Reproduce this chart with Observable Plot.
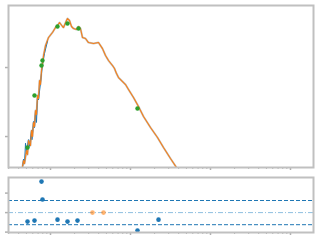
<!DOCTYPE html>
<html><head><meta charset="utf-8">
<script src="https://cdn.jsdelivr.net/npm/d3@7"></script>
<script src="https://cdn.jsdelivr.net/npm/@observablehq/plot@0.6"></script>
<style>body{margin:0;background:#fff;width:320px;height:240px;overflow:hidden} #c svg{display:block}</style>
</head><body><div id="c"></div>
<script>
// model SED
const modelWave = [0.434,0.460,0.473,0.501,0.516,0.531,0.562,0.579,0.596,0.613,0.631,0.649,0.668,0.688,0.708,0.729,0.750,0.772,0.794,0.818,0.866,0.944,1.059,1.155,1.223,1.296,1.413,1.454,1.585,1.631,1.728,1.830,1.939,2.113,2.239,2.371,2.512,2.738,2.985,3.447,3.981,4.467,4.870,5.309,5.957,6.310,6.683,7.079,7.943,8.660,9.441,10.90,12.59,14.54,17.78,21.75,25.84,31.62,37.58,44.67];
const modelFlux = [0.301,0.449,0.406,0.627,0.548,0.875,0.741,1.222,1.0,1.596,1.396,2.38,2.08,3.93,3.56,6.48,5.67,9.05,11.05,14.93,20.8,27.2,32.2,38.0,40.6,44.9,39.3,38.0,48.0,51.3,48.0,39.3,36.7,35.5,39.3,36.7,27.2,26.3,23.0,22.3,23.0,18.8,14.93,12.63,10.69,9.67,8.19,7.16,6.27,5.67,4.80,3.68,2.72,1.95,1.350,0.967,0.693,0.480,0.356,0.255];
// observed spectrum
const specWave = [0.447,0.460,0.473,0.487,0.501,0.531,0.547,0.579,0.587,0.613,0.631,0.649,0.668,0.688,0.708,0.750,0.794,0.841,0.917];
const specFlux = [0.356,0.470,0.400,0.800,0.600,0.900,0.720,1.222,0.900,1.650,1.350,2.30,1.600,3.80,3.40,6.00,11.2,16.0,24.0];
// photometry
const photWave = [0.516,0.631,0.772,0.794,1.223,1.631,2.239,12.23];
const photFlux = [0.693,3.93,10.69,12.63,39.3,43.4,36.7,2.55];
// residuals
const resWave = [0.516,0.631,0.772,0.794,1.223,1.631,2.175,12.23,22.4];
const resVal = [-0.46,-0.41,1.59,0.67,-0.36,-0.46,-0.41,-0.92,-0.36];
const limWave = [3.35,4.60];
const limVal = [0,0];
const bandLevels = [-0.62,0.62];
// ticks
const xMajor = [1,10,100,1000];
const xMinor = [0.3,0.4,0.5,0.6,0.7,0.8,0.9,2,3,4,5,6,7,8,9,20,30,40,50,60,70,80,90,200,300,400,500,600,700,800,900];
const yTopTicks = [1,10];
const yResTicks = [-1,0,1];

const model = modelWave.map((w,i)=>({w,f:modelFlux[i]}));
const spec = specWave.map((w,i)=>({w,f:specFlux[i]}));
const phot = photWave.map((w,i)=>({w,f:photFlux[i]}));
const res = resWave.map((w,i)=>({w,r:resVal[i]}));
const lim = limWave.map((w,i)=>({w,r:limVal[i]}));

const xDomain = [0.2985, 1939];
const tickColor = "#b0b0b0";
const frameColor = "#c0c0c0";

const sedPlot = Plot.plot({
  width: 320, height: 170,
  marginLeft: 8, marginRight: 7, marginTop: 5, marginBottom: 3,
  x: {type: "log", domain: xDomain, label: null},
  y: {type: "log", domain: [0.356, 79.2], label: null},
  marks: [
    Plot.line(model, {x: "w", y: "f", stroke: "#c4c4c4", strokeWidth: 2, clip: true}),
    Plot.line(spec, {x: "w", y: "f", stroke: "#1f77b4", strokeWidth: 1, clip: true}),
    Plot.line(model, {x: "w", y: "f", stroke: "#f5801a", strokeWidth: 1.1, clip: true}),
    Plot.dot(phot, {x: "w", y: "f", r: 2.2, fill: "#2ca02c", stroke: "none"}),
    Plot.axisX({ticks: xMinor, tickSize: 2, text: null, label: null, stroke: tickColor}),
    Plot.axisX({ticks: xMajor, tickSize: 3, text: null, label: null, stroke: tickColor, strokeWidth: 1.5}),
    Plot.axisY({ticks: yTopTicks, tickSize: 3, text: null, label: null, stroke: tickColor, strokeWidth: 1.5}),
    Plot.frame({stroke: frameColor, strokeWidth: 2})
  ]
});

const resPlot = Plot.plot({
  width: 320, height: 70,
  marginLeft: 8, marginRight: 7, marginTop: 7, marginBottom: 8,
  x: {type: "log", domain: xDomain, label: null},
  y: {domain: [-1.02, 1.8], label: null},
  marks: [
    Plot.ruleY(bandLevels, {stroke: "#1f77b4", strokeWidth: 1, strokeDasharray: "4,2"}),
    Plot.ruleY([0], {stroke: "#8fbfe0", strokeWidth: 1, strokeDasharray: "5,2,1,2"}),
    Plot.dot(res, {x: "w", y: "r", r: 2.3, fill: "#1f77b4", stroke: "none"}),
    Plot.dot(lim, {x: "w", y: "r", r: 2.3, fill: "#ff7f0e", fillOpacity: 0.6, stroke: "none"}),
    Plot.axisX({ticks: xMinor, tickSize: 2, text: null, label: null, stroke: tickColor}),
    Plot.axisX({ticks: xMajor, tickSize: 3, text: null, label: null, stroke: tickColor, strokeWidth: 1.5}),
    Plot.axisY({ticks: yResTicks, tickSize: 3, text: null, label: null, stroke: tickColor, strokeWidth: 1.5}),
    Plot.frame({stroke: frameColor, strokeWidth: 2})
  ]
});

const c = document.getElementById("c");
c.appendChild(sedPlot);
c.appendChild(resPlot);
</script>
</body></html>
